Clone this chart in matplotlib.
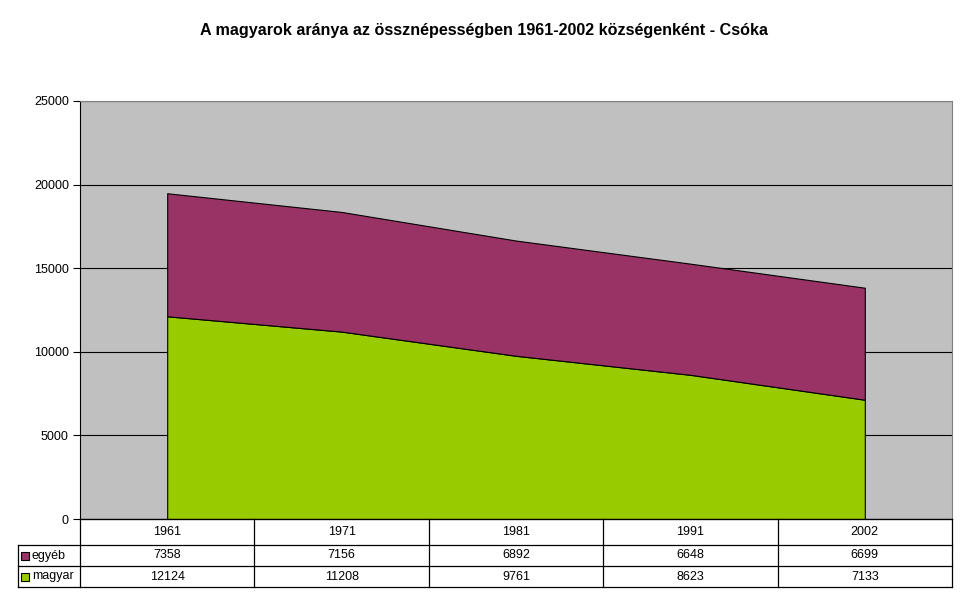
import matplotlib
matplotlib.use("Agg")
import matplotlib.pyplot as plt
from matplotlib.patches import Rectangle
import numpy as np

plt.rcParams['font.family'] = ['Liberation Sans', 'DejaVu Sans']

years = ["1961", "1971", "1981", "1991", "2002"]
egyeb = [7358, 7156, 6892, 6648, 6699]
magyar = [12124, 11208, 9761, 8623, 7133]
series_names = ["egyéb", "magyar"]
colors = {"egyéb": "#993366", "magyar": "#99CC00"}
title = "A magyarok aránya az össznépességben 1961-2002 községenként - Csóka"

W, H = 968, 604
fig = plt.figure(figsize=(W / 100, H / 100), dpi=100)

L, R, T, B = 80, 952, 101, 519
ax = fig.add_axes([L / W, 1 - B / H, (R - L) / W, (B - T) / H])
ax.set_facecolor("#C0C0C0")
x = np.arange(len(years))
ax.stackplot(x, magyar, egyeb, colors=[colors["magyar"], colors["egyéb"]],
             edgecolor="black", linewidth=0.8)
ax.set_xlim(-0.5, len(years) - 0.5)
ax.set_ylim(0, 25000)
ax.set_yticks(np.arange(0, 25001, 5000))
ax.tick_params(axis='y', labelsize=9, length=5, width=0.8, direction='out', pad=3)
ax.set_xticks([])
ax.grid(axis='y', color='black', linewidth=0.8)
ax.set_axisbelow(True)
for s in ["top", "right"]:
    ax.spines[s].set_color("#808080")
ax.spines["left"].set_color("black")
ax.spines["bottom"].set_color("black")
for sp in ax.spines.values():
    sp.set_linewidth(0.8)

fig.text(0.5, 1 - 31 / H, title, ha='center', va='center', fontsize=11.6, fontweight='bold')

# data table
tax = fig.add_axes([18 / W, 1 - 587 / H, (R - 18) / W, (587 - B) / H])
tax.set_xlim(18, R)
tax.set_ylim(587, B)
tax.axis('off')
row_y = [B, 545, 566, 587]
colw = (R - L) / len(years)
col_x = [L + i * colw for i in range(len(years) + 1)]
lw = 0.9
tax.plot([L, R], [row_y[0], row_y[0]], color='black', lw=lw, clip_on=False)
for yy in row_y[1:]:
    tax.plot([18, R], [yy, yy], color='black', lw=lw, clip_on=False)
for i, cx in enumerate(col_x):
    tax.plot([cx, cx], [row_y[0], row_y[3]], color='black', lw=lw, clip_on=False)
tax.plot([18, 18], [row_y[1], row_y[3]], color='black', lw=lw, clip_on=False)

for i, yr in enumerate(years):
    cx = col_x[i] + colw / 2
    tax.text(cx, (row_y[0] + row_y[1]) / 2, yr, ha='center', va='center', fontsize=9)
    tax.text(cx, (row_y[1] + row_y[2]) / 2, str(egyeb[i]), ha='center', va='center', fontsize=9)
    tax.text(cx, (row_y[2] + row_y[3]) / 2, str(magyar[i]), ha='center', va='center', fontsize=9)

for r, name in enumerate(series_names):
    yc = (row_y[r + 1] + row_y[r + 2]) / 2
    tax.add_patch(Rectangle((21, yc - 4), 8, 8, facecolor=colors[name], edgecolor='black', lw=0.8))
    tax.text(32, yc, name, ha='left', va='center', fontsize=9)

fig.savefig("out.png", dpi=100)
